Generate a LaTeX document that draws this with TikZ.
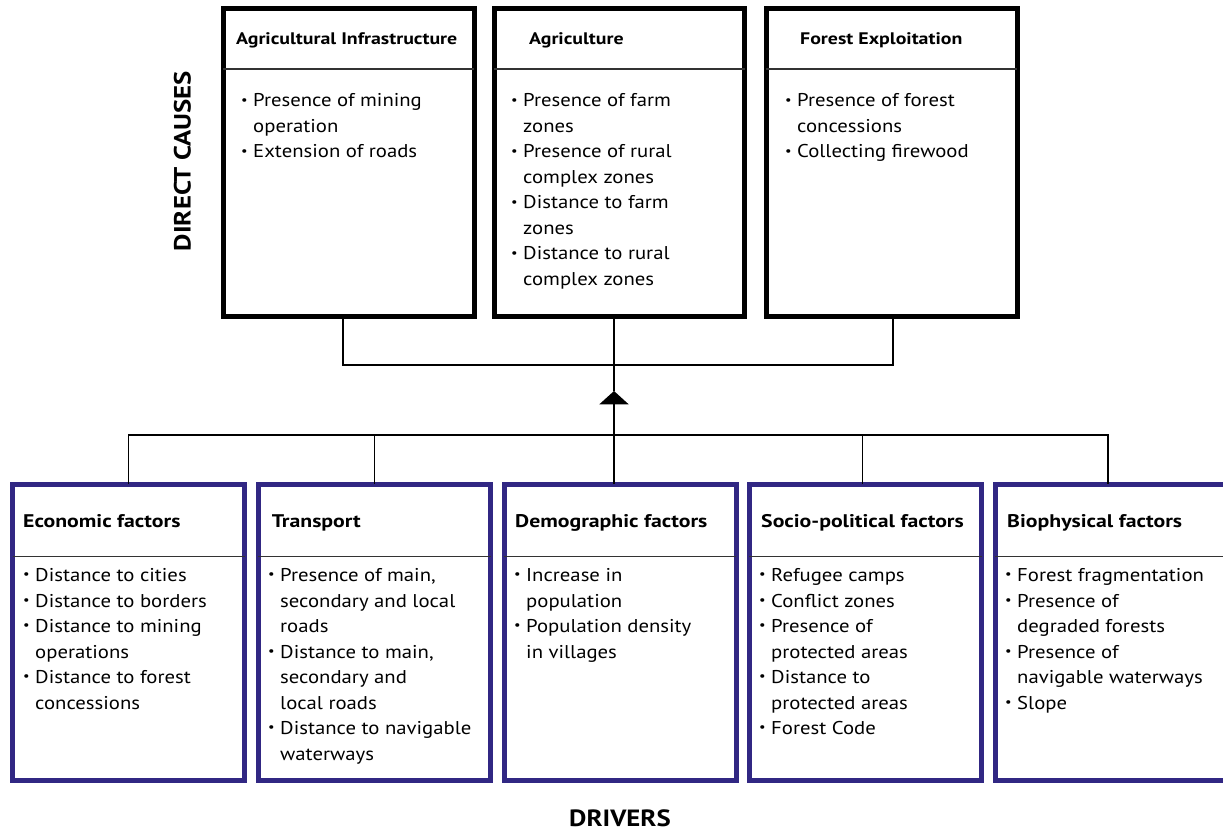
\documentclass[tikz,border=0pt]{standalone}
\usepackage{fontspec}
\setmainfont{PT Sans}
\newfontfamily\bodyfont{PT Sans}[FakeStretch=1.12]
\newfontfamily\headfont{PT Sans}[FakeStretch=1.19]
\newfontfamily\labfont{PT Sans}[FakeStretch=1.14]
\usetikzlibrary{arrows.meta}
\definecolor{drvblue}{RGB}{49,39,131}
\newlength\bulw
\setlength\bulw{12pt}
\newcommand\bul{\makebox[\bulw][l]{\raisebox{0.3ex}{\scalebox{0.7}{•}}}}
\newcommand\ind{\hspace*{\bulw}}
\begin{document}
\begin{tikzpicture}[x=1pt,y=-1pt,
  cause/.style={draw=black, line width=5pt, rectangle, inner sep=0pt, outer sep=0pt,
    minimum width=251pt, minimum height=307.5pt},
  driver/.style={draw=drvblue, line width=5pt, rectangle, inner sep=0pt, outer sep=0pt,
    minimum width=232pt, minimum height=296.5pt},
  sepline/.style={line width=1.3pt, draw=black!80},
  conn/.style={line width=1.6pt, draw=black},
  hdtop/.style={anchor=base west, inner sep=0pt, font=\headfont\fontsize{16.7}{20}\selectfont\bfseries},
  hdbot/.style={anchor=base west, inner sep=0pt, font=\headfont\fontsize{18.3}{20}\selectfont\bfseries},
  body/.style={anchor=base west, inner sep=0pt, font=\bodyfont\fontsize{18.5}{25.5}\selectfont},
  biglab/.style={inner sep=0pt, font=\labfont\fontsize{23.5}{26}\selectfont\bfseries}]
\useasboundingbox (0,0) rectangle (1223,832);
\clip (0,0) rectangle (1223,832);

% coordinates
\coordinate (hT) at (0,69);
\coordinate (hB) at (0,556.7);
\coordinate (top) at (614,365);
\coordinate (tip) at (614,391);
\coordinate (bus) at (0,435);

% direct causes boxes
\node[cause] (t1) at (348.5,162.25) {};
\node[cause, minimum width=250.5pt] (t2) at (619.25,162.25) {};
\node[cause] (t3) at (891.5,162.25) {};

% driver boxes
\node[driver] (b1) at (128.5,632.25) {};
\node[driver, minimum width=232.4pt] (b2) at (374.5,632.25) {};
\node[driver] (b3) at (620,632.25) {};
\node[driver, minimum width=232.4pt] (b4) at (865.5,632.25) {};
\node[driver] (b5) at (1111,632.25) {};

% header separators
\foreach \n in {t1,t2,t3} {\draw[sepline] (\n.west |- hT) -- (\n.east |- hT);}
\foreach \n in {b1,b2,b3,b4,b5} {\draw[sepline] (\n.west |- hB) -- (\n.east |- hB);}

% connectors
\draw[conn] ([xshift=-5.5pt]t1.south) |- (top) -| ([xshift=1.2pt]t3.south);
\draw[conn] ([xshift=-5.25pt]t2.south) -- (top);
\draw[conn] (tip) -- (top);
\draw[conn, -{Triangle[width=29pt,length=13.3pt]}] ([xshift=-6pt]b3.north) -- (tip);
\draw[conn] (b1.north) |- ([xshift=-3.3pt]b5.north |- bus) -- ([xshift=-3.3pt]b5.north);
\draw[conn] (b2.north) -- (b2.north |- bus);
\draw[conn] ([xshift=-3.2pt]b4.north) -- ([xshift=-3.2pt]b4.north |- bus);

% top headers
\node[hdtop] (h1) at (236,44.75) {Agricultural Infrastructure};
\node[hdtop] (h2) at (529,44.75) {Agriculture};
\node[hdtop] (h3) at (800,44.75) {Forest Exploitation};

% top bodies
\node[body] (c1) at (241,107) {\begin{tabular}[t]{@{}l@{}}
\bul Presence of mining\\ \ind operation\\ \bul Extension of roads\end{tabular}};
\node[body] (c2) at (511,107) {\begin{tabular}[t]{@{}l@{}}
\bul Presence of farm\\ \ind zones\\ \bul Presence of rural\\ \ind complex zones\\
\bul Distance to farm\\ \ind zones\\ \bul Distance to rural\\ \ind complex zones\end{tabular}};
\node[body] (c3) at (785,107) {\begin{tabular}[t]{@{}l@{}}
\bul Presence of forest\\ \ind concessions\\ \bul Collecting firewood\end{tabular}};

% bottom headers
\node[hdbot] (g1) at (23,527) {Economic factors};
\node[hdbot] (g2) at (271.7,527) {Transport};
\node[hdbot] (g3) at (515,527) {Demographic factors};
\node[hdbot] (g4) at (761,527) {Socio-political factors};
\node[hdbot] (g5) at (1007,527) {Biophysical factors};

% bottom bodies
\node[body] (d1) at (23,581.7) {\begin{tabular}[t]{@{}l@{}}
\bul Distance to cities\\ \bul Distance to borders\\ \bul Distance to mining\\ \ind operations\\
\bul Distance to forest\\ \ind concessions\end{tabular}};
\node[body] (d2) at (268,581.7) {\begin{tabular}[t]{@{}l@{}}
\bul Presence of main,\\ \ind secondary and local\\ \ind roads\\ \bul Distance to main,\\
\ind secondary and\\ \ind local roads\\ \bul Distance to navigable\\ \ind waterways\end{tabular}};
\node[body] (d3) at (514,581.7) {\begin{tabular}[t]{@{}l@{}}
\bul Increase in\\ \ind population\\ \bul Population density\\ \ind in villages\end{tabular}};
\node[body] (d4) at (759,581.7) {\begin{tabular}[t]{@{}l@{}}
\bul Refugee camps\\ \bul Conflict zones\\ \bul Presence of\\ \ind protected areas\\
\bul Distance to\\ \ind protected areas\\ \bul Forest Code\end{tabular}};
\node[body] (d5) at (1005,581.7) {\begin{tabular}[t]{@{}l@{}}
\bul Forest fragmentation\\ \bul Presence of\\ \ind degraded forests\\ \bul Presence of\\
\ind navigable waterways\\ \bul Slope\end{tabular}};

% side labels
\node[biglab, rotate=90] (lc) at (182.5,161) {DIRECT CAUSES};
\node[biglab] (ld) at (620,818) {DRIVERS};
\end{tikzpicture}
\end{document}
